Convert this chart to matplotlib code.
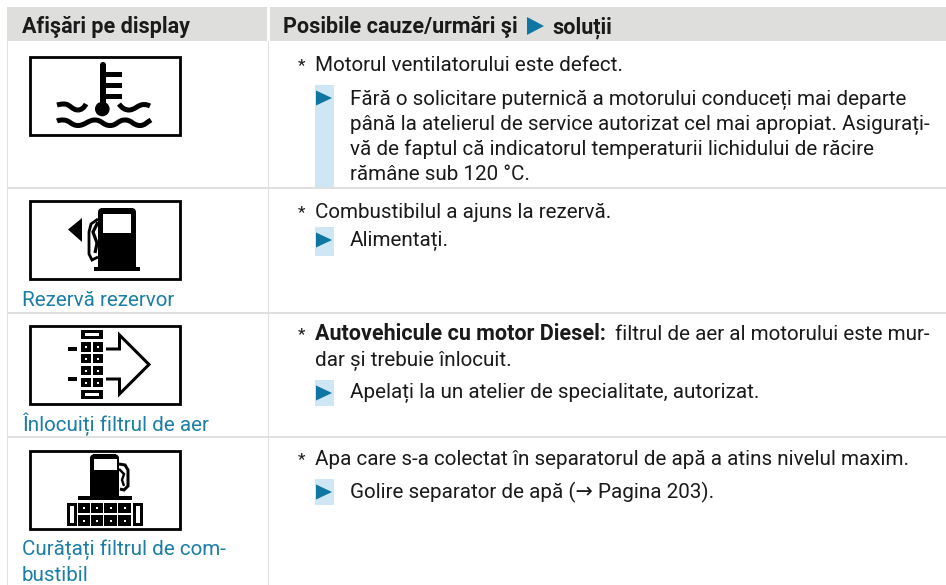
import matplotlib
matplotlib.use("Agg")
import matplotlib.pyplot as plt
from matplotlib.patches import Rectangle, Polygon, PathPatch, Circle
from matplotlib.path import Path

FONT = "Roboto"
FS = 14.85
FS_BOLD = 15.5
BLACK = "#1a1a1a"
BLUE_TXT = "#1b7ea6"
BLUE_TRI = "#0f76a3"
STRIP = "#cfe6f5"
GRID = "#e0e0e0"
HEAD = "#dededc"

header_left = "Afişări pe display"
header_right_a = "Posibile cauze/urmări şi"
header_right_b = "soluții"

causes = [
    ("Motorul ventilatorului este defect.", 71),
    ("Combustibilul a ajuns la rezervă.", 218),
    ("Apa care s-a colectat în separatorul de apă a atins nivelul maxim.", 465),
]
solutions = [
    (["Fără o solicitare puternică a motorului conduceți mai departe",
      "până la atelierul de service autorizat cel mai apropiat. Asigurați-",
      "vă de faptul că indicatorul temperaturii lichidului de răcire",
      "rămâne sub 120 °C."], [105, 130, 155, 180], 85, 188, 98),
    (["Alimentați."], [246], 227, 256, 240),
    (["Apelați la un atelier de specialitate, autorizat."], [398], 380, 406, 393),
    (["Golire separator de apă (→ Pagina 203)."], [498], 479, 505, 492),
]
labels = [
    ("Rezervă rezervor", 306),
    ("Înlocuiți filtrul de aer", 431),
    ("Curățați filtrul de com-", 555),
    ("bustibil", 581),
]
row_lines = [188, 313, 437]
icon_tops = [56, 200, 325, 450]

fig = plt.figure(figsize=(9.46, 5.85), dpi=100)
ax = fig.add_axes([0, 0, 1, 1])
ax.set_xlim(0, 946)
ax.set_ylim(585, 0)
ax.axis("off")
PX = 0.72


def rect(x0, y0, x1, y1, c="black", z=3):
    ax.add_patch(Rectangle((x0, y0), x1 - x0, y1 - y0, fc=c, ec="none", zorder=z))


def stroke(pts, lw, c="black", z=3, codes=None):
    if codes is None:
        codes = [Path.MOVETO] + [Path.LINETO] * (len(pts) - 1)
    ax.add_patch(PathPatch(Path(pts, codes), fc="none", ec=c, lw=lw * PX, zorder=z,
                           capstyle="butt", joinstyle="miter"))


def tri(x0, x1, yc, h=8, c=BLUE_TRI):
    ax.add_patch(Polygon([(x0, yc - h), (x1, yc), (x0, yc + h)], closed=True, fc=c, ec="none", zorder=4))


def txt(x, y, s, color=BLACK, weight="normal", size=FS):
    return ax.text(x, y, s, family=[FONT, "DejaVu Sans"], fontsize=size, color=color, weight=weight,
                   ha="left", va="baseline", zorder=5)


# table frame
rect(7, 7, 267, 41, HEAD, 1)
rect(270, 7, 946, 41, HEAD, 1)
rect(6.5, 41, 8, 585, GRID, 1)
rect(267.5, 41, 269, 585, GRID, 1)
for y in row_lines:
    rect(7, y - 1, 946, y + 1, GRID, 2)

# header text
txt(22, 33, header_left, weight="bold", size=FS_BOLD)
txt(283, 33, header_right_a, weight="bold", size=FS_BOLD)
tri(527, 544, 26, 9)
txt(552, 33, header_right_b, weight="bold", size=FS_BOLD)

# right column
for s, y in causes:
    txt(298, y - 1, "*", size=12.5)
    txt(315, y, s)
txt(298, 339, "*", size=12.5)
txt(315, 340, "Autovehicule cu motor Diesel:", weight="bold", size=FS_BOLD)
txt(615, 340, "filtrul de aer al motorului este mur-")
txt(315, 366, "dar și trebuie înlocuit.")

for lines, ys, y0, y1, yc in solutions:
    rect(315, y0, 334, y1, STRIP, 1.5)
    tri(316, 332, yc, 7.5)
    for s, y in zip(lines, ys):
        txt(350, y, s)

# blue captions
for s, y in labels:
    txt(22, y, s, color=BLUE_TXT)

# icon frames
for top in icon_tops:
    ax.add_patch(Rectangle((30, top + 1), 150, 78, fc="white", ec="black", lw=2.8 * PX, zorder=2))

# --- icon 1: thermometer over waves
rect(100, 65, 106, 108)
ax.add_patch(Circle((103, 65), 3, fc="black", ec="none", zorder=3))
ax.add_patch(Circle((102.3, 109), 7.3, fc="black", ec="none", zorder=3))
for y in (74, 85, 96):
    rect(105, y - 2.5, 122, y + 2.5)
C4 = Path.CURVE4
wave3 = [Path.MOVETO, C4, C4, C4, C4, C4, C4]
stroke([(57, 105), (59, 104.5), (61, 104), (64, 104), (70, 104), (72, 110), (78, 110)], 5, codes=wave3)
stroke([(78, 110), (81, 110), (84, 108), (86, 104)], 5, codes=wave3[:4])
stroke([(119, 104), (122, 108), (125, 110), (129, 110), (135, 110), (138, 104.5), (144, 104.5)], 5, codes=wave3)
stroke([(144, 104.5), (146, 104.5), (148, 105), (150, 106)], 5, codes=wave3[:4])
lower = [(57, 121), (59, 120), (61, 120), (63, 120), (70, 120), (71, 125.5), (78, 125.5),
         (85, 125.5), (88, 120), (95, 120), (102, 120), (103, 125.5), (110, 125.5),
         (117, 125.5), (118, 120), (125, 120), (132, 120), (133, 125.5), (140, 125.5),
         (145, 125.5), (147, 122), (151, 120)]
stroke(lower, 5, codes=[Path.MOVETO] + [C4] * (len(lower) - 1))

# --- icon 2: fuel pump and left triangle
rect(98, 212, 136, 268)
rect(101, 208, 133, 213)
ax.add_patch(Circle((102, 212), 4, fc="black", ec="none", zorder=3))
ax.add_patch(Circle((132, 212), 4, fc="black", ec="none", zorder=3))
rect(102.5, 214, 131, 233, "white", 4)
rect(94, 267, 139.5, 271)
ax.add_patch(Polygon([(68, 229.5), (82, 218), (82, 242)], closed=True, fc="black", ec="none", zorder=3))
stroke([(98, 219), (91, 224), (89, 232), (89, 254), (92, 260), (98, 257)], 2.8)
stroke([(98, 222), (93, 232), (97, 243), (95, 253)], 3.2)

# --- icon 3: air filter and arrow
fx = [(81, 91), (93, 103)]
fy = [(342, 352), (354, 363), (366, 375), (378, 387)]
for y0, y1 in fy:
    for x0, x1 in fx:
        rect(x0, y0, x1, y1)
        rect((x0 + x1) / 2 - 1, (y0 + y1) / 2 - 1, (x0 + x1) / 2 + 1, (y0 + y1) / 2 + 1, "white", 4)
for y0 in (330, 390):
    rect(81, y0, 103, y0 + 9)
    rect(85, y0 + 3, 99, y0 + 6, "white", 4)
rect(68, 347, 77, 351)
rect(68, 377, 77, 381)
stroke([(106, 349), (119.5, 349), (119.5, 335), (149, 364.5), (119.5, 394), (119.5, 379), (106, 379)], 3)

# --- icon 4: pump on filter
rect(90, 458, 119, 496)
rect(93, 454, 116, 459)
ax.add_patch(Circle((93.5, 458), 3.5, fc="black", ec="none", zorder=3))
ax.add_patch(Circle((115.5, 458), 3.5, fc="black", ec="none", zorder=3))
rect(93.5, 459, 116.5, 470, "white", 4)
rect(78, 496, 132, 500)
stroke([(119, 464), (125, 465), (128, 470), (128, 486), (124, 490), (120, 489)], 3)
stroke([(119, 469), (124, 474), (122, 480), (124, 486)], 2.4)
cx = [(78, 90), (91, 103), (104, 117), (118, 131)]
cy = [(503, 513), (515, 526)]
for y0, y1 in cy:
    for x0, x1 in cx:
        rect(x0, y0, x1, y1)
        rect((x0 + x1) / 2 - 1, (y0 + y1) / 2 - 1, (x0 + x1) / 2 + 1, (y0 + y1) / 2 + 1, "white", 4)
for x0 in (67, 133):
    rect(x0, 503, x0 + 9.5, 526)
    rect(x0 + 3, 506, x0 + 6.5, 523, "white", 4)

fig.savefig("out.png", dpi=100, facecolor="white")
